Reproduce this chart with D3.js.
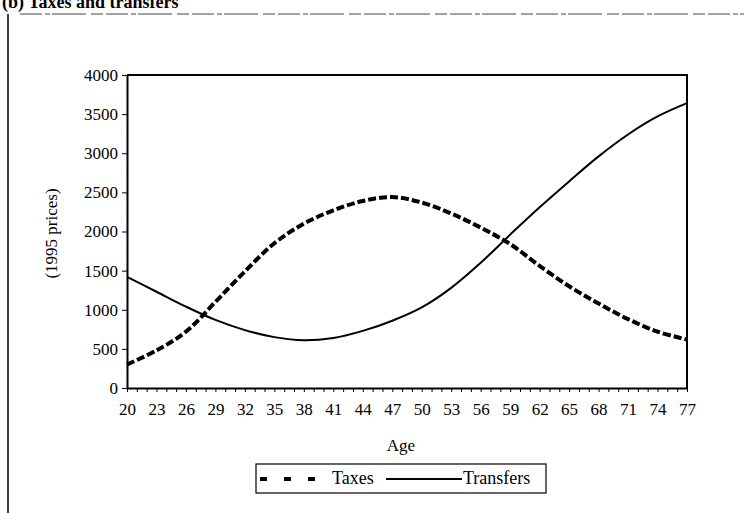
<!DOCTYPE html>
<html>
<head>
<meta charset="utf-8">
<script src="https://cdn.jsdelivr.net/npm/d3@7"></script>
<style>
  body { margin: 0; background: #fff; }
  svg text { font-family: "Liberation Serif", "DejaVu Serif", serif; fill: #000; }
</style>
</head>
<body>
<svg id="chart"></svg>
<script>
// ages shown on the x axis (every 3rd year)
const ages = [20, 23, 26, 29, 32, 35, 38, 41, 44, 47, 50, 53, 56, 59, 62, 65, 68, 71, 74, 77];
// values (1995 prices)
const taxes = [300, 480, 720, 1100, 1490, 1850, 2100, 2270, 2390, 2440, 2370, 2230, 2050, 1840, 1560, 1300, 1080, 880, 720, 620];
const transfers = [1420, 1230, 1040, 870, 740, 650, 610, 640, 730, 860, 1030, 1280, 1600, 1960, 2310, 2640, 2960, 3240, 3470, 3640];
const yTicks = [0, 500, 1000, 1500, 2000, 2500, 3000, 3500, 4000];
const seriesNames = ["Taxes", "Transfers"];

const W = 744, H = 513;
const margin = { top: 75, right: 57, bottom: 125, left: 127 },
    w = W - margin.left - margin.right,
    h = H - margin.top - margin.bottom;

var svg = d3.select("#chart")
    .attr("width", W)
    .attr("height", H);

// panel frame and the title cut by the scan
svg.append("text")
    .attr("x", 2)
    .attr("y", 8)
    .style("font-size", "18px")
    .style("font-weight", "bold")
    .text("(b) Taxes and transfers");
svg.append("line")
    .attr("x1", 20).attr("x2", W)
    .attr("y1", 14).attr("y2", 14)
    .attr("stroke", "#444")
    .attr("stroke-width", 1)
    .attr("stroke-dasharray", "22,3,5,2,34,5,12,3");
svg.append("line")
    .attr("x1", 8).attr("x2", 8)
    .attr("y1", 14).attr("y2", H)
    .attr("stroke", "#000")
    .attr("stroke-width", 1.5);

var focus = svg.append("g")
    .attr("transform", "translate(" + margin.left + "," + margin.top + ")");

var xScale = d3.scaleLinear().domain([20, 77]).range([0, w]);
var yScale = d3.scaleLinear().domain([0, 4000]).range([h, 0]);

// plot box (top and right)
focus.append("path")
    .attr("d", "M0,0H" + w + "V" + h)
    .attr("fill", "none")
    .attr("stroke", "#000")
    .attr("stroke-width", 2);

// y axis
var yAxis = d3.axisLeft(yScale).tickValues(yTicks).tickSize(5).tickSizeOuter(0).tickFormat(d3.format("d"));
var gY = focus.append("g").call(yAxis);
gY.select(".domain").attr("stroke-width", 2);
gY.selectAll(".tick text")
    .attr("x", -9)
    .style("font-size", "17px");

// x axis: minor tick every year, labels every 3 years
var gX = focus.append("g")
    .attr("transform", "translate(0," + h + ")")
    .call(d3.axisBottom(xScale).tickValues(d3.range(20, 78)).tickSize(4).tickSizeOuter(0).tickFormat(""));
gX.select(".domain").attr("stroke-width", 2);
focus.append("g")
    .attr("transform", "translate(0," + h + ")")
    .call(d3.axisBottom(xScale).tickValues(ages).tickSize(0).tickPadding(15).tickFormat(d3.format("d")))
    .call(g => g.select(".domain").remove())
    .selectAll("text")
    .style("font-size", "17px");

// axis titles
focus.append("text")
    .attr("transform", "translate(" + (-70) + "," + (h / 2 + 2) + ") rotate(-90)")
    .attr("text-anchor", "middle")
    .style("font-size", "17px")
    .text("(1995 prices)");
focus.append("text")
    .attr("x", w / 2 - 6)
    .attr("y", h + 63)
    .attr("text-anchor", "middle")
    .style("font-size", "17px")
    .text("Age");

// lines
var line = (vals) => d3.line()
    .x((d, i) => xScale(ages[i]))
    .y(d => yScale(d))
    .curve(d3.curveCatmullRom.alpha(0.5))(vals);

focus.append("path")
    .attr("d", line(transfers))
    .attr("fill", "none")
    .attr("stroke", "#000")
    .attr("stroke-width", 2);
focus.append("path")
    .attr("d", line(taxes))
    .attr("fill", "none")
    .attr("stroke", "#000")
    .attr("stroke-width", 4)
    .attr("stroke-dasharray", "8,3");

// legend
var lg = svg.append("g").attr("transform", "translate(256,464)");
lg.append("rect")
    .attr("width", 290).attr("height", 29)
    .attr("fill", "#fff")
    .attr("stroke", "#000")
    .attr("stroke-width", 1.2);
lg.append("line")
    .attr("x1", 4).attr("x2", 60).attr("y1", 15).attr("y2", 15)
    .attr("stroke", "#000").attr("stroke-width", 4)
    .attr("stroke-dasharray", "7,17");
lg.append("text")
    .attr("x", 76).attr("y", 20)
    .style("font-size", "18px")
    .text(seriesNames[0]);
lg.append("line")
    .attr("x1", 130).attr("x2", 206).attr("y1", 15).attr("y2", 15)
    .attr("stroke", "#000").attr("stroke-width", 2);
lg.append("text")
    .attr("x", 207).attr("y", 20)
    .style("font-size", "18px")
    .text(seriesNames[1]);
</script>
</body>
</html>
